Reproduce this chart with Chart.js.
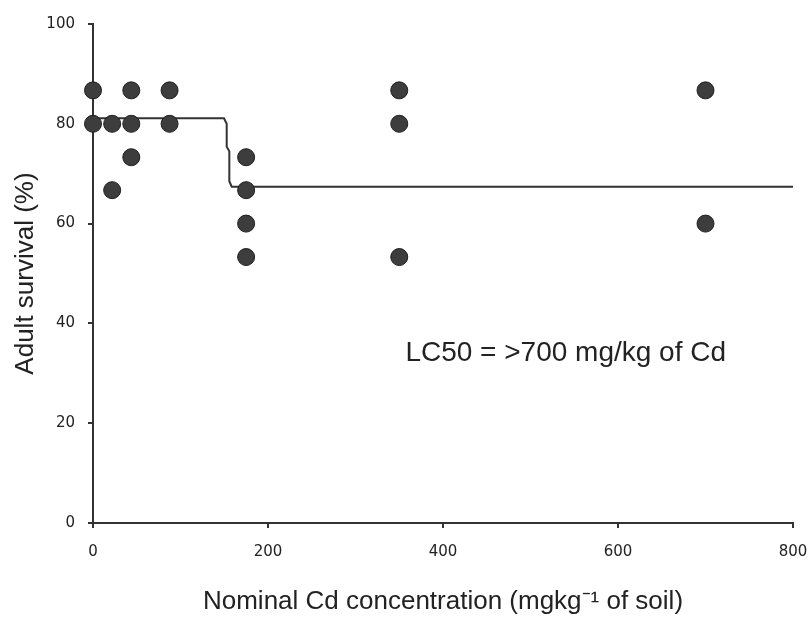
<!DOCTYPE html>
<html>
<head>
<meta charset="utf-8">
<script src="https://cdn.jsdelivr.net/npm/chart.js@4/dist/chart.umd.min.js"></script>
<style>
  html, body { margin: 0; padding: 0; background: #fff; }
  #wrap { width: 811px; height: 619px; }
</style>
</head>
<body>
<div id="wrap"><canvas id="myChart" width="811" height="619"></canvas></div>
<script>
// observed adult survival, one entry per replicate
const pointConc = [0, 0, 21.9, 21.9, 43.75, 43.75, 43.75, 87.5, 87.5, 175, 175, 175, 175, 350, 350, 350, 700, 700]
const pointSurvival = [86.7, 80, 80, 66.7, 86.7, 80, 73.3, 86.7, 80, 73.3, 66.7, 60, 53.3, 86.7, 80, 53.3, 86.7, 60]

// fitted curve
const fitConc = [0, 149.7, 152.8, 152.8, 155.8, 155.8, 158.5, 800]
const fitSurvival = [81.1, 81.1, 80, 75.4, 74.5, 68.5, 67.4, 67.4]

const xTicks = [0, 200, 400, 600, 800]
const yTicks = [0, 20, 40, 60, 80, 100]

const noteText = "LC50 = >700 mg/kg of Cd"
const noteAt = [357, 34] // x, y in data units

const axisColor = "#333333"
const tickFont = { family: "DejaVu Sans", size: 15 }
const titleFont = { family: "Liberation Sans, Arial, sans-serif", size: 26 }

const notePlugin = {
	id: "note",
	afterDraw(chart) {
		const ctx = chart.ctx
		const x = chart.scales.x.getPixelForValue(noteAt[0])
		const y = chart.scales.y.getPixelForValue(noteAt[1])
		ctx.save()
		ctx.font = "28px 'Liberation Sans', Arial, sans-serif"
		ctx.fillStyle = "#222"
		ctx.textAlign = "left"
		ctx.textBaseline = "middle"
		ctx.fillText(noteText, x, y)
		ctx.restore()
	}
}

new Chart("myChart", {
	type: "scatter",
	data: {
		datasets: [
			{
				data: pointConc.map((c, i) => ({ x: c, y: pointSurvival[i] })),
				pointRadius: 8.5,
				pointHoverRadius: 8.5,
				backgroundColor: "#3d3d3d",
				borderColor: "#1e1e1e",
				borderWidth: 1,
				clip: false,
				order: 0
			},
			{
				type: "line",
				data: fitConc.map((c, i) => ({ x: c, y: fitSurvival[i] })),
				borderColor: "#333",
				borderWidth: 2,
				pointRadius: 0,
				fill: false,
				tension: 0,
				clip: false,
				order: 1
			}
		]
	},
	options: {
		responsive: false,
		animation: false,
		devicePixelRatio: 1,
		layout: { padding: { top: 24, right: 18, bottom: 0, left: 0 } },
		plugins: {
			legend: { display: false },
			tooltip: { enabled: false }
		},
		scales: {
			x: {
				type: "linear",
				min: 0,
				max: 800,
				afterFit: (s) => { s.height = 96; s.paddingLeft = 0; s.paddingRight = 0 },
				afterBuildTicks: (s) => { s.ticks = xTicks.map(v => ({ value: v })) },
				border: { display: true, color: axisColor, width: 2 },
				grid: { drawOnChartArea: false, drawTicks: true, tickLength: 5, color: axisColor, lineWidth: 2 },
				ticks: { font: tickFont, color: "#222", padding: 15, maxRotation: 0 },
				title: {
					display: true,
					text: "Nominal Cd concentration (mgkg\u207B\u00B9 of soil)",
					font: titleFont,
					color: "#222",
					padding: { top: 0, bottom: 2 }
				}
			},
			y: {
				min: 0,
				max: 100,
				afterFit: (s) => { s.width = 93; s.paddingTop = 0; s.paddingBottom = 0 },
				afterBuildTicks: (s) => { s.ticks = yTicks.map(v => ({ value: v })) },
				border: { display: true, color: axisColor, width: 2 },
				grid: { drawOnChartArea: false, drawTicks: true, tickLength: 5, color: axisColor, lineWidth: 2 },
				ticks: { font: tickFont, color: "#222", padding: 13 },
				title: {
					display: true,
					text: "Adult survival (%)",
					font: titleFont,
					color: "#222",
					padding: { top: 10, bottom: 0 }
				}
			}
		}
	},
	plugins: [notePlugin]
})
</script>
</body>
</html>
